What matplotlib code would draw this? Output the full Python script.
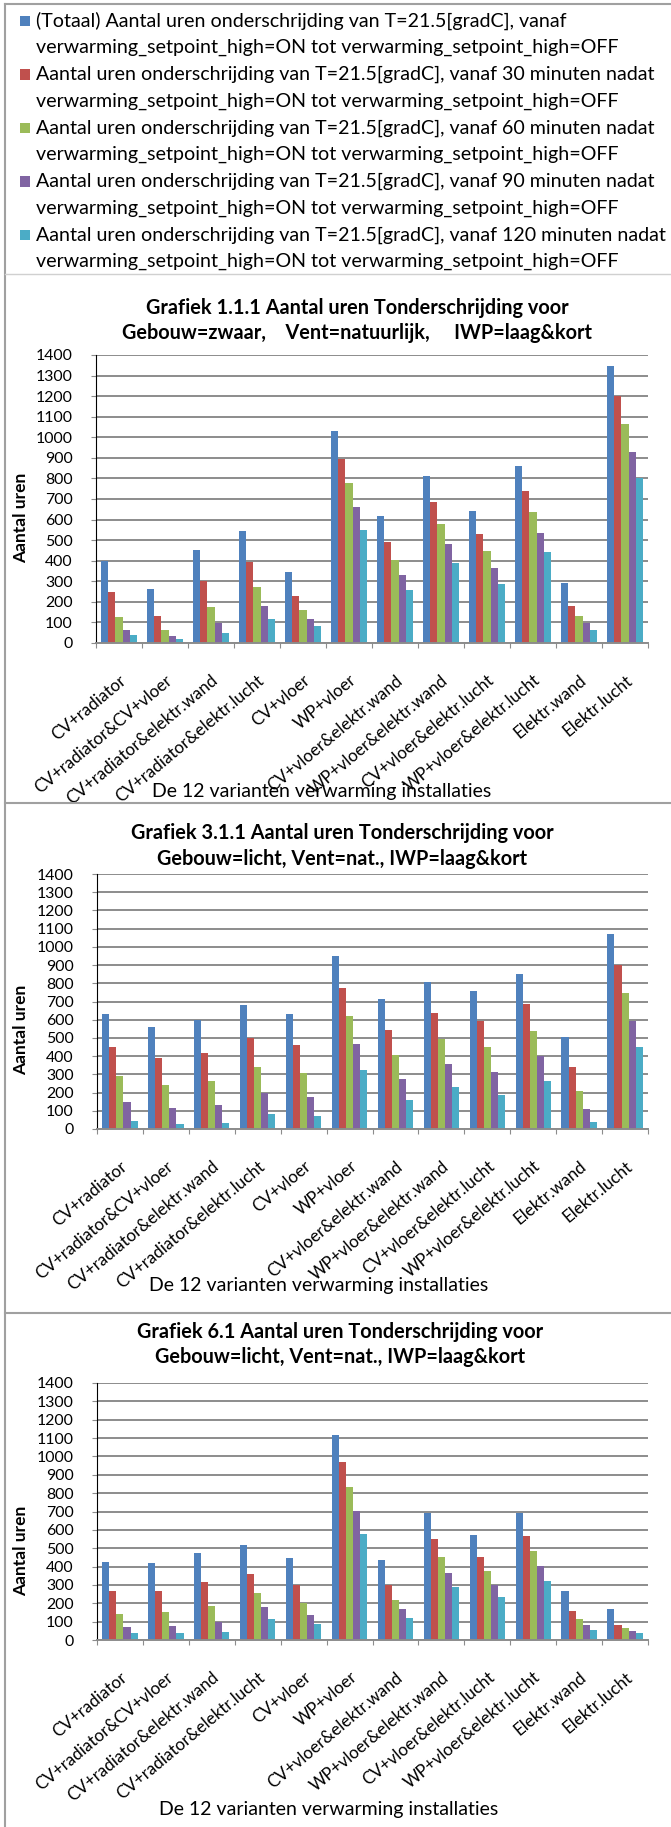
import matplotlib
matplotlib.use("Agg")
import matplotlib.pyplot as plt
from matplotlib.patches import Rectangle
from matplotlib.lines import Line2D
import numpy as np

W, H, DPI = 671, 1827, 100
plt.rcParams["font.family"] = ["Lato", "DejaVu Sans"]

categories = [
    "CV+radiator", "CV+radiator&CV+vloer", "CV+radiator&elektr.wand",
    "CV+radiator&elektr.lucht", "CV+vloer", "WP+vloer", "CV+vloer&elektr.wand",
    "WP+vloer&elektr.wand", "CV+vloer&elektr.lucht", "WP+vloer&elektr.lucht",
    "Elektr.wand", "Elektr.lucht",
]

series_labels = [
    ("(Totaal) Aantal uren onderschrijding van T=21.5[gradC], vanaf",
     "verwarming_setpoint_high=ON tot verwarming_setpoint_high=OFF"),
    ("Aantal uren onderschrijding van T=21.5[gradC], vanaf 30 minuten nadat",
     "verwarming_setpoint_high=ON tot verwarming_setpoint_high=OFF"),
    ("Aantal uren onderschrijding van T=21.5[gradC], vanaf 60 minuten nadat",
     "verwarming_setpoint_high=ON tot verwarming_setpoint_high=OFF"),
    ("Aantal uren onderschrijding van T=21.5[gradC], vanaf 90 minuten nadat",
     "verwarming_setpoint_high=ON tot verwarming_setpoint_high=OFF"),
    ("Aantal uren onderschrijding van T=21.5[gradC], vanaf 120 minuten nadat",
     "verwarming_setpoint_high=ON tot verwarming_setpoint_high=OFF"),
]
series_colors = ["#4F81BD", "#C0504D", "#9BBB59", "#8064A2", "#4BACC6"]

# Grafiek 1.1.1 - Gebouw=zwaar, Vent=natuurlijk
g111_totaal = [400, 262, 452, 546, 346, 1030, 615, 813, 640, 860, 290, 1347]
g111_30min = [247, 132, 302, 393, 228, 893, 490, 683, 530, 740, 181, 1202]
g111_60min = [128, 65, 177, 273, 160, 778, 403, 580, 445, 638, 132, 1066]
g111_90min = [65, 35, 95, 180, 117, 662, 332, 483, 365, 536, 99, 930]
g111_120min = [38, 18, 48, 117, 81, 549, 258, 390, 288, 443, 62, 800]

# Grafiek 3.1.1 - Gebouw=licht, Vent=nat.
g311_totaal = [632, 559, 598, 680, 633, 948, 712, 805, 760, 852, 505, 1070]
g311_30min = [448, 391, 417, 500, 461, 776, 545, 638, 595, 685, 339, 900]
g311_60min = [289, 239, 263, 340, 310, 618, 405, 492, 448, 538, 210, 745]
g311_90min = [148, 115, 132, 199, 178, 466, 275, 356, 312, 400, 108, 594]
g311_120min = [42, 25, 31, 83, 71, 325, 160, 233, 187, 266, 40, 449]

# Grafiek 6.1 - Gebouw=licht, Vent=nat.
g61_totaal = [426, 417, 474, 515, 445, 1118, 438, 690, 570, 692, 269, 169]
g61_30min = [267, 267, 316, 360, 300, 968, 298, 548, 450, 568, 158, 81]
g61_60min = [141, 151, 185, 255, 200, 834, 218, 452, 376, 487, 114, 63]
g61_90min = [69, 78, 98, 178, 138, 705, 168, 366, 300, 403, 81, 51]
g61_120min = [38, 40, 45, 113, 89, 580, 120, 287, 232, 322, 54, 39]

y_ticks = list(range(0, 1401, 100))
y_label = "Aantal uren"
x_label = "De 12 varianten verwarming installaties"

charts = [
    dict(title=("Grafiek 1.1.1 Aantal uren Tonderschrijding voor",
                "Gebouw=zwaar,    Vent=natuurlijk,     IWP=laag&kort"),
         series=[g111_totaal, g111_30min, g111_60min, g111_90min, g111_120min],
         box=(96, 355, 648, 643), title_x=357, title_y=(308, 333),
         ylabel_y=518, xlabel_xy=(322, 791)),
    dict(title=("Grafiek 3.1.1 Aantal uren Tonderschrijding voor",
                "Gebouw=licht, Vent=nat., IWP=laag&kort"),
         series=[g311_totaal, g311_30min, g311_60min, g311_90min, g311_120min],
         box=(97, 874, 648, 1129), title_x=342, title_y=(833, 859),
         ylabel_y=1030, xlabel_xy=(319, 1286)),
    dict(title=("Grafiek 6.1 Aantal uren Tonderschrijding voor",
                "Gebouw=licht, Vent=nat., IWP=laag&kort"),
         series=[g61_totaal, g61_30min, g61_60min, g61_90min, g61_120min],
         box=(97, 1383, 648, 1640), title_x=340, title_y=(1332, 1357),
         ylabel_y=1551, xlabel_xy=(329, 1809)),
]

fig = plt.figure(figsize=(W / DPI, H / DPI), dpi=DPI)
fig.patch.set_facecolor("white")
renderer = fig.canvas.get_renderer()


def fx(x):
    return x / W


def fy(y):
    return 1 - y / H


def fitted_size(text, width_px, **kw):
    probe = fig.text(0, 0, text, fontsize=20, **kw)
    w = probe.get_window_extent(renderer).width
    probe.remove()
    return 20 * width_px / w


legend_fs = fitted_size(series_labels[4][0], 632)
title_fs = fitted_size(charts[0]["title"][0], 420, fontweight="bold")
xlabel_fs = fitted_size(x_label, 341)
cat_fs = fitted_size(categories[1], 174)
tick_fs = fitted_size("1400", 37)
ylabel_fs = fitted_size(y_label, 90, fontweight="bold")

# outer frame and separators between the panels
frame_kw = dict(color="#A0A0A0", lw=1.5, transform=fig.transFigure)
fig.add_artist(Line2D([fx(5), fx(5)], [fy(4), 0], **frame_kw))
for yy in (4, 803, 1313):
    fig.add_artist(Line2D([fx(5), 1], [fy(yy), fy(yy)], **frame_kw))
fig.add_artist(Line2D([fx(5), 1], [fy(274), fy(274)], color="#D0D0D0", lw=1,
                      transform=fig.transFigure))

# legend block
for i, (line1, line2) in enumerate(series_labels):
    y1 = 21 + 53.5 * i
    fig.add_artist(Rectangle((fx(20), fy(y1 + 5)), 10 / W, 10 / H,
                             facecolor=series_colors[i], edgecolor="none",
                             transform=fig.transFigure))
    fig.text(fx(36), fy(y1), line1, fontsize=legend_fs, va="center", ha="left")
    fig.text(fx(36), fy(y1 + 26.5), line2, fontsize=legend_fs, va="center", ha="left")

grid_color = "#8C8C8C"
bar_w = 1 / 6.5
xpos = np.arange(len(categories)) + 0.5

for ch in charts:
    left, top, right, bottom = ch["box"]
    ax = fig.add_axes([fx(left), fy(bottom), (right - left) / W, (bottom - top) / H])
    for k, vals in enumerate(ch["series"]):
        ax.bar(xpos + (k - 2) * bar_w, vals, width=bar_w, color=series_colors[k],
               zorder=2, linewidth=0)
    ax.set_xlim(0, len(categories))
    ax.set_ylim(0, 1400)
    ax.set_yticks(y_ticks)
    ax.tick_params(axis="y", length=3.8, width=0.8, color=grid_color, pad=13,
                   labelsize=tick_fs)
    ax.set_xticks(np.arange(len(categories) + 1))
    ax.set_xticklabels([])
    ax.set_xticks(xpos, minor=True)
    ax.set_xticklabels(categories, minor=True, rotation=40, ha="right", va="top",
                       rotation_mode="anchor", fontsize=cat_fs)
    ax.tick_params(axis="x", which="major", length=3.8, width=0.8, color=grid_color)
    ax.tick_params(axis="x", which="minor", length=0, pad=20.9)
    ax.grid(axis="y", color=grid_color, lw=1.4)
    ax.set_axisbelow(True)
    for side in ("top", "right"):
        ax.spines[side].set_visible(False)
    ax.spines["left"].set_color("black")
    ax.spines["left"].set_linewidth(0.8)
    ax.spines["bottom"].set_color(grid_color)
    ax.spines["bottom"].set_linewidth(1.4)

    t1, t2 = ch["title"]
    fig.text(fx(ch["title_x"]), fy(ch["title_y"][0]), t1, fontsize=title_fs,
             fontweight="bold", ha="center", va="center")
    fig.text(fx(ch["title_x"]), fy(ch["title_y"][1]), t2, fontsize=title_fs,
             fontweight="bold", ha="center", va="center")
    fig.text(fx(21), fy(ch["ylabel_y"]), y_label, rotation=90, fontsize=ylabel_fs,
             fontweight="bold", ha="center", va="center")
    fig.text(fx(ch["xlabel_xy"][0]), fy(ch["xlabel_xy"][1]), x_label,
             fontsize=xlabel_fs, ha="center", va="center")

fig.savefig("out.png", dpi=DPI, facecolor="white")
